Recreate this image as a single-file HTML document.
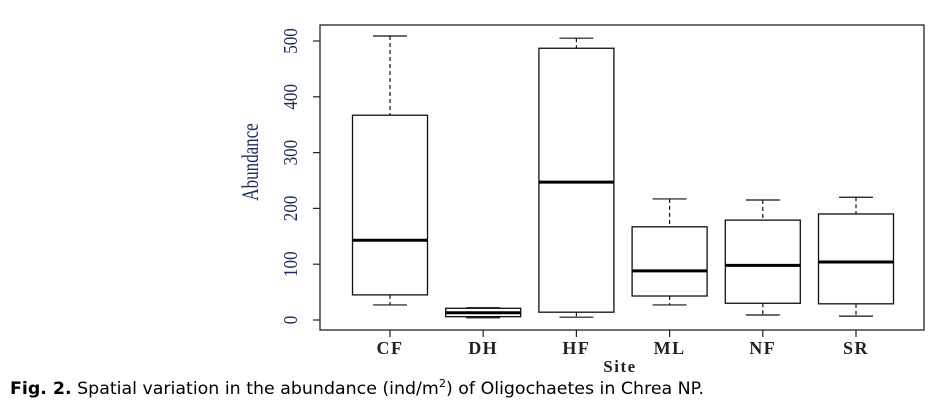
<!DOCTYPE html>
<html><head><meta charset="utf-8"><style>
body{margin:0;background:#fff;width:937px;height:403px;overflow:hidden}
svg text{font-family:"Liberation Serif",serif}
</style></head><body>
<svg id="chart" width="937" height="403" xmlns="http://www.w3.org/2000/svg">
<rect x="320" y="25" width="604" height="305" fill="none" stroke="#222" stroke-width="1.3"/>
<g id="marks"></g>
<text transform="translate(258,162) rotate(-90) scale(0.85,1.15)" text-anchor="middle" font-size="20" fill="#1a2a5a">Abundance</text>
<text x="620" y="372" text-anchor="middle" font-size="17" font-weight="bold" fill="#222" letter-spacing="1.5">Site</text>
<text x="10" y="394" font-size="17" fill="#000" textLength="694" lengthAdjust="spacingAndGlyphs" style="font-family:'DejaVu Sans',sans-serif"><tspan font-weight="bold">Fig. 2.</tspan> Spatial variation in the abundance (ind/m<tspan dy="-7" font-size="11">2</tspan><tspan dy="7">) of Oligochaetes in Chrea NP.</tspan></text>
</svg>
<script>
const categories=["CF","DH","HF","ML","NF","SR"];
const whiskerLow=[27,4,5,27,9,7];
const q1=[45,6,14,43,30,29];
const medians=[143,13,247,88,98,104];
const q3=[367,21,487,167,179,190];
const whiskerHigh=[509,22,505,217,215,220];
const yTicks=[0,100,200,300,400,500];
const NS="http://www.w3.org/2000/svg";
const g=document.getElementById('marks');
function y(v){return 320-v*0.558;}
function x(i){return 390+i*93.2;}
function el(t,a){const e=document.createElementNS(NS,t);for(const k in a)e.setAttribute(k,a[k]);g.appendChild(e);return e;}
yTicks.forEach(v=>{
 const t=el('line',{x1:313,x2:320,y1:y(v),y2:y(v),stroke:'#222','stroke-width':1.2});
 
 
 const l=el('text',{transform:`translate(297,${y(v)}) rotate(-90) scale(0.95,1.1)`,'text-anchor':'middle','font-size':18,fill:'#1a2a5a'});
 l.textContent=v;
 
 
});
categories.forEach((c,i)=>{
 const cx=x(i),hw=37.5,cw=17;
 const t=el('line',{x1:cx,x2:cx,y1:330,y2:337,stroke:'#222','stroke-width':1.2});
 
 
 const l=el('text',{x:cx,y:354,'text-anchor':'middle','font-size':18,'font-weight':'bold',fill:'#222','letter-spacing':'1.5'});
 l.textContent=c;
 
 
 const w1=el('line',{x1:cx,x2:cx,y1:y(whiskerHigh[i]),y2:y(q3[i]),stroke:'#111','stroke-dasharray':'4,3','stroke-width':1.2});
 
 
 const w2=el('line',{x1:cx,x2:cx,y1:y(q1[i]),y2:y(whiskerLow[i]),stroke:'#111','stroke-dasharray':'4,3','stroke-width':1.2});
 
 
 const c1=el('line',{x1:cx-cw,x2:cx+cw,y1:y(whiskerHigh[i]),y2:y(whiskerHigh[i]),stroke:'#111','stroke-width':1.2});
 
 
 const c2=el('line',{x1:cx-cw,x2:cx+cw,y1:y(whiskerLow[i]),y2:y(whiskerLow[i]),stroke:'#111','stroke-width':1.2});
 
 
 const b=el('rect',{x:cx-hw,y:y(q3[i]),width:hw*2,height:y(q1[i])-y(q3[i]),fill:'#fff',stroke:'#111','stroke-width':1.3});
 
 
 const m=el('line',{x1:cx-hw,x2:cx+hw,y1:y(medians[i]),y2:y(medians[i]),stroke:'#000','stroke-width':3});
 
 
});
</script>
</body></html>
